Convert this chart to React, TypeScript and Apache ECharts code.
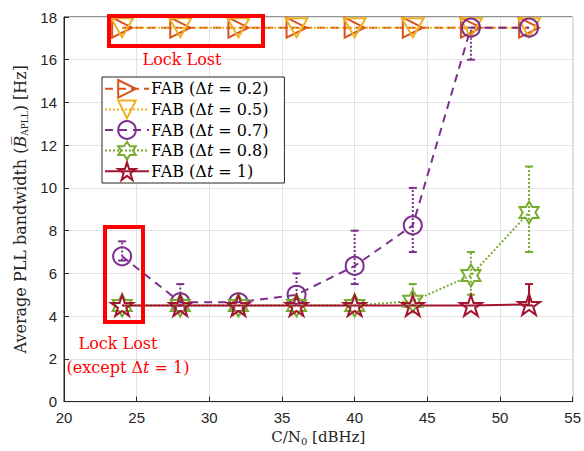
import React, { useEffect, useRef } from "react";
import * as echarts from "echarts";

const xValues = [24, 28, 32, 36, 40, 44, 48, 52];
const fab02 = [17.5, 17.5, 17.5, 17.5, 17.5, 17.5, 17.5, 17.5];
const fab05 = [17.5, 17.5, 17.5, 17.5, 17.5, 17.5, 17.5, 17.5];
const fab07 = [6.8, 4.65, 4.65, 5.0, 6.35, 8.25, 17.5, 17.5];
const fab08 = [4.5, 4.5, 4.5, 4.5, 4.5, 4.7, 5.9, 8.85];
const fab1 = [4.5, 4.5, 4.5, 4.5, 4.5, 4.5, 4.5, 4.55];

// error bars: [x, low, high]
const err07 = [[24, 6.6, 7.5], [28, 4.5, 5.5], [36, 4.8, 6.0], [40, 5.5, 8.0], [44, 7.0, 10.0], [48, 16.0, 17.5]];
const err08 = [[44, 4.5, 5.5], [48, 5.0, 7.0], [52, 7.0, 11.0]];
const err1 = [[52, 4.5, 5.5]];

const xTicks = [20, 25, 30, 35, 40, 45, 50, 55];
const yTicks = [0, 2, 4, 6, 8, 10, 12, 14, 16, 18];

const names = ["FAB (Δt = 0.2)", "FAB (Δt = 0.5)", "FAB (Δt = 0.7)", "FAB (Δt = 0.8)", "FAB (Δt = 1)"];
const dtLabels = ["0.2", "0.5", "0.7", "0.8", "1"];
const colors = ["#D95319", "#EDB120", "#7E2F8E", "#77AC30", "#A2142F"];

const triRight = "path://M0,0 L10,5 L0,10 Z";
const triDown = "path://M0,0 L10,0 L5,8.66 Z";
const hexagram = "path://M10,0 L12.89,5 L18.66,5 L15.77,10 L18.66,15 L12.89,15 L10,20 L7.11,15 L1.34,15 L4.23,10 L1.34,5 L7.11,5 Z";
const pentagram = "path://M10,0 L12.245,6.91 L19.51,6.91 L13.633,11.18 L15.88,18.09 L10,13.82 L4.12,18.09 L6.367,11.18 L0.49,6.91 L7.755,6.91 Z";

const serif = "'DejaVu Serif', 'Liberation Serif', serif";
const sans = "'Liberation Sans', Arial, sans-serif";

function lineSeries(name: string, ys: number[], color: string, symbol: string, size: number, type: any, dash?: number[]) {
  return {
    type: "line",
    name,
    data: xValues.map((x, i) => [x, ys[i]]),
    symbol,
    symbolSize: size,
    symbolKeepAspect: true,
    showAllSymbol: true,
    lineStyle: { color, width: 2, type: dash ? dash : type },
    itemStyle: { color: "rgba(255,255,255,0)", borderColor: color, borderWidth: 2 },
    emphasis: { disabled: true },
  };
}

function errSeries(data: number[][], color: string, dotted: boolean) {
  return {
    type: "custom",
    data,
    encode: { x: 0, y: [1, 2] },
    silent: true,
    renderItem: (params: any, api: any) => {
      const x = api.value(0);
      const lo = api.coord([x, api.value(1)]);
      const hi = api.coord([x, api.value(2)]);
      const cap = 4;
      return {
        type: "group",
        children: [
          { type: "line", shape: { x1: lo[0], y1: lo[1], x2: hi[0], y2: hi[1] }, style: { stroke: color, lineWidth: 2, lineDash: dotted ? [2, 2] : null } },
          { type: "line", shape: { x1: hi[0] - cap, y1: hi[1], x2: hi[0] + cap, y2: hi[1] }, style: { stroke: color, lineWidth: 2 } },
          { type: "line", shape: { x1: lo[0] - cap, y1: lo[1], x2: lo[0] + cap, y2: lo[1] }, style: { stroke: color, lineWidth: 2 } },
        ],
      };
    },
  };
}

export default function App() {
  const ref = useRef<HTMLDivElement>(null);
  useEffect(() => {
    if (!ref.current) return;
    const chart = echarts.init(ref.current, null, { renderer: "svg" });
    const option: any = {
      animation: false,
      backgroundColor: "#fff",
      grid: { left: 64, right: 9, top: 17, bottom: 48, show: true, borderColor: "#262626", borderWidth: 1 },
      xAxis: {
        type: "value",
        min: 20,
        max: 55,
        interval: 5,
        name: "{t|C/N}{s|0}{t| [dBHz]}",
        nameLocation: "middle",
        nameGap: 25,
        nameTextStyle: {
          rich: {
            t: { fontFamily: serif, fontSize: 15, color: "#262626" },
            s: { fontFamily: serif, fontSize: 10, color: "#262626", padding: [8, 0, 0, 0] },
          },
        },
        axisLine: { lineStyle: { color: "#262626" } },
        axisTick: { inside: true, length: 5, lineStyle: { color: "#262626" } },
        axisLabel: { color: "#262626", fontFamily: sans, fontSize: 15, margin: 8, formatter: (v: number) => (xTicks.includes(v) ? String(v) : "") },
        splitLine: { show: true, lineStyle: { color: "#e3e3e3" } },
      },
      yAxis: {
        type: "value",
        min: 0,
        max: 18,
        interval: 2,
        name: "{t|Average PLL bandwidth (}{b|B̅}{s|APLL}{t|) [Hz]}",
        nameLocation: "middle",
        nameGap: 33,
        nameTextStyle: {
          rich: {
            t: { fontFamily: serif, fontSize: 16, color: "#262626" },
            b: { fontFamily: serif, fontSize: 16, fontStyle: "italic", color: "#262626" },
            s: { fontFamily: serif, fontSize: 9, color: "#262626", padding: [8, 0, 0, 0] },
          },
        },
        axisLine: { show: true, lineStyle: { color: "#262626" } },
        axisTick: { show: true, inside: true, length: 5, lineStyle: { color: "#262626" } },
        axisLabel: { color: "#262626", fontFamily: sans, fontSize: 15, margin: 7, formatter: (v: number) => (yTicks.includes(v) ? String(v) : "") },
        splitLine: { show: true, lineStyle: { color: "#e3e3e3" } },
      },
      legend: {
        orient: "vertical",
        left: 102,
        top: 77,
        data: names,
        itemWidth: 44,
        itemHeight: 22,
        itemGap: 1,
        padding: [2, 16, 2, 2],
        borderColor: "#262626",
        borderWidth: 1,
        backgroundColor: "#fff",
        selectedMode: false,
        itemStyle: { color: "rgba(255,255,255,0)" },
        formatter: (name: string) => {
          const i = names.indexOf(name);
          return `{r|FAB (Δ}{i|t}{e|=}{r|${dtLabels[i]})}`;
        },
        textStyle: {
          padding: [0, 0, 0, -3],
          rich: {
            r: { fontFamily: serif, fontSize: 16, color: "#000" },
            i: { fontFamily: serif, fontSize: 16, fontStyle: "italic", color: "#000" },
            e: { fontFamily: serif, fontSize: 16, color: "#000", padding: [0, 5, 0, 5] },
          },
        },
      },
      series: [
        lineSeries(names[0], fab02, colors[0], triRight, 20, "dashed", [8, 5]),
        lineSeries(names[1], fab05, colors[1], triDown, 22, "dotted", [2, 2]),
        errSeries(err07, colors[2], true),
        lineSeries(names[2], fab07, colors[2], "circle", 18, "dashed", [8, 6]),
        errSeries(err08, colors[3], true),
        lineSeries(names[3], fab08, colors[3], hexagram, 22, "dotted", [2, 2]),
        errSeries(err1, colors[4], false),
        lineSeries(names[4], fab1, colors[4], pentagram, 22, "solid"),
      ],
      graphic: [
        { type: "rect", shape: { x: 109, y: 16, width: 154, height: 30 }, style: { fill: "none", stroke: "#ff0000", lineWidth: 4 }, z: 100 },
        { type: "text", x: 182, y: 59, style: { text: "Lock Lost", fill: "#ff0000", font: `16px ${serif}`, textAlign: "center", textVerticalAlign: "middle" }, z: 100 },
        { type: "rect", shape: { x: 105, y: 227, width: 38, height: 95 }, style: { fill: "none", stroke: "#ff0000", lineWidth: 4 }, z: 100 },
        { type: "text", x: 118, y: 343, style: { text: "Lock Lost", fill: "#ff0000", font: `16px ${serif}`, textAlign: "center", textVerticalAlign: "middle" }, z: 100 },
        {
          type: "text",
          x: 128,
          y: 367,
          style: {
            text: "{r|(except Δ}{i|t}{r| = 1)}",
            textAlign: "center",
            textVerticalAlign: "middle",
            rich: {
              r: { fontFamily: serif, fontSize: 16, fill: "#ff0000" },
              i: { fontFamily: serif, fontSize: 16, fontStyle: "italic", fill: "#ff0000" },
            },
          },
          z: 100,
        },
      ],
    };
    chart.setOption(option);
    return () => chart.dispose();
  }, []);
  return <div ref={ref} style={{ width: 584, height: 451, position: "absolute", left: 0, top: 0 }} />;
}
